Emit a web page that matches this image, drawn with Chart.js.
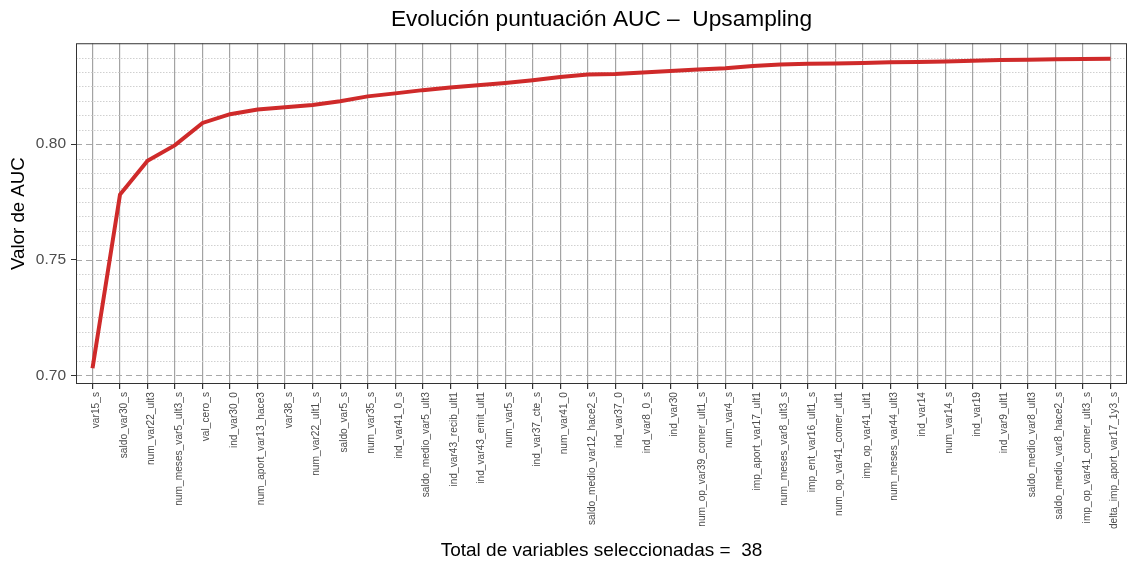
<!DOCTYPE html>
<html lang="es">
<head>
    <meta charset="UTF-8">
    <title>Evolución puntuación AUC - Upsampling</title>
    <script src="https://cdn.jsdelivr.net/npm/chart.js"></script>
    <style>
        body { margin: 0; background: #ffffff; }
        .chart-container { position: relative; width: 1129px; height: 563px; }
    </style>
</head>
<body>
    <div class="chart-container">
        <canvas id="aucChart"></canvas>
    </div>

    <script>
        // Variables in the order they were selected
        const variables = [
            'var15_s', 'saldo_var30_s', 'num_var22_ult3', 'num_meses_var5_ult3_s', 'val_cero_s',
            'ind_var30_0', 'num_aport_var13_hace3', 'var38_s', 'num_var22_ult1_s', 'saldo_var5_s',
            'num_var35_s', 'ind_var41_0_s', 'saldo_medio_var5_ult3', 'ind_var43_recib_ult1',
            'ind_var43_emit_ult1', 'num_var5_s', 'ind_var37_cte_s', 'num_var41_0',
            'saldo_medio_var12_hace2_s', 'ind_var37_0', 'ind_var8_0_s', 'ind_var30',
            'num_op_var39_comer_ult1_s', 'num_var4_s', 'imp_aport_var17_ult1', 'num_meses_var8_ult3_s',
            'imp_ent_var16_ult1_s', 'num_op_var41_comer_ult1', 'imp_op_var41_ult1', 'num_meses_var44_ult3',
            'ind_var14', 'num_var14_s', 'ind_var19', 'ind_var9_ult1', 'saldo_medio_var8_ult3',
            'saldo_medio_var8_hace2_s', 'imp_op_var41_comer_ult3_s', 'delta_imp_aport_var17_1y3_s'
        ];

        // AUC after adding each variable
        const aucValues = [
            0.7030, 0.7782, 0.7928, 0.7996, 0.8092, 0.8130, 0.8150, 0.8160, 0.8170, 0.8186,
            0.8207, 0.8220, 0.8234, 0.8245, 0.8255, 0.8265, 0.8277, 0.8291, 0.8302, 0.8304,
            0.8310, 0.8317, 0.8323, 0.8329, 0.8338, 0.8345, 0.8348, 0.8349, 0.8352, 0.8355,
            0.8356, 0.8358, 0.8361, 0.8364, 0.8366, 0.8368, 0.8369, 0.8370
        ];

        const yTicks = [0.70, 0.75, 0.80];
        const yRange = [0.6962, 0.8437];
        const minorStep = 0.00625;

        // Horizontal grid (dashed majors, dotted minors) + panel border
        const panelGrid = {
            id: 'panelGrid',
            beforeDatasetsDraw(chart) {
                const { ctx, chartArea: a, scales: { y } } = chart;
                ctx.save();
                ctx.lineWidth = 1;
                for (let v = yTicks[0] - minorStep; v <= yRange[1]; v += minorStep) {
                    if (v < yRange[0]) continue;
                    const isMajor = yTicks.some(t => Math.abs(t - v) < 1e-6);
                    const py = Math.round(y.getPixelForValue(v)) + 0.5;
                    ctx.strokeStyle = isMajor ? '#a8a8a8' : '#d0d0d0';
                    ctx.setLineDash(isMajor ? [6, 4] : [1.5, 1.5]);
                    ctx.beginPath();
                    ctx.moveTo(a.left, py);
                    ctx.lineTo(a.right, py);
                    ctx.stroke();
                }
                ctx.restore();
            },
            afterDatasetsDraw(chart) {
                const { ctx, chartArea: a } = chart;
                ctx.save();
                ctx.strokeStyle = '#333333';
                ctx.lineWidth = 1;
                ctx.strokeRect(a.left + 0.5, a.top + 0.5, a.right - a.left - 1, a.bottom - a.top - 1);
                ctx.restore();
            }
        };

        const ctx = document.getElementById('aucChart').getContext('2d');
        new Chart(ctx, {
            type: 'line',
            data: {
                datasets: [{
                    label: 'AUC',
                    data: aucValues.map((v, i) => ({ x: i, y: v })),
                    borderColor: '#cf2a2a',
                    borderWidth: 4,
                    pointRadius: 0,
                    tension: 0,
                    fill: false
                }]
            },
            options: {
                responsive: true,
                maintainAspectRatio: false,
                animation: false,
                layout: { padding: { left: 0, right: 2, top: 0, bottom: 0 } },
                plugins: {
                    legend: { display: false },
                    tooltip: { enabled: false },
                    title: {
                        display: true,
                        fullSize: false,
                        text: 'Evolución puntuación AUC –  Upsampling',
                        color: '#000000',
                        font: { family: 'Liberation Sans', size: 22.7, weight: 'normal' },
                        padding: { top: 6, bottom: 10 }
                    }
                },
                scales: {
                    x: {
                        type: 'linear',
                        min: -0.6,
                        max: variables.length - 1 + 0.6,
                        bounds: 'data',
                        afterBuildTicks: scale => {
                            scale.ticks = variables.map((_, i) => ({ value: i }));
                        },
                        afterFit: scale => { scale.height = 179; },
                        grid: {
                            color: '#a3a3a3',
                            lineWidth: 1.2,
                            tickColor: '#333333',
                            tickLength: 5
                        },
                        border: { display: false },
                        ticks: {
                            autoSkip: false,
                            minRotation: 90,
                            maxRotation: 90,
                            padding: 3,
                            labelOffset: 4,
                            color: '#4d4d4d',
                            font: { family: 'Liberation Sans', size: 10.2 },
                            callback: v => variables[v]
                        },
                        title: {
                            display: true,
                            text: 'Total de variables seleccionadas =  38',
                            color: '#000000',
                            font: { family: 'Liberation Sans', size: 19 },
                            padding: { top: 0, bottom: 1 }
                        }
                    },
                    y: {
                        min: yRange[0],
                        max: yRange[1],
                        bounds: 'data',
                        afterBuildTicks: scale => {
                            scale.ticks = yTicks.map(v => ({ value: v }));
                        },
                        afterFit: scale => { scale.width = 76; },
                        grid: {
                            drawOnChartArea: false,
                            tickColor: '#333333',
                            tickLength: 5
                        },
                        border: { display: false },
                        ticks: {
                            padding: 5,
                            color: '#4d4d4d',
                            font: { family: 'Liberation Sans', size: 15.5 },
                            callback: v => v.toFixed(2)
                        },
                        title: {
                            display: true,
                            text: 'Valor de AUC',
                            color: '#000000',
                            font: { family: 'Liberation Sans', size: 18.7 },
                            padding: { top: 8, bottom: 0 }
                        }
                    }
                }
            },
            plugins: [panelGrid]
        });
    </script>
</body>
</html>
